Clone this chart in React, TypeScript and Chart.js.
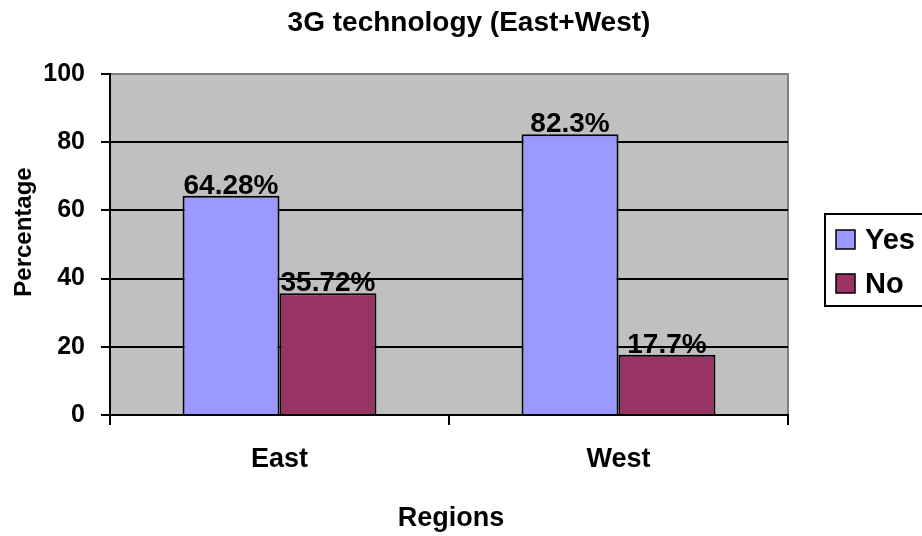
import React, { useEffect, useRef } from "react";
import { Chart, registerables } from "chart.js";

Chart.register(...registerables);

const chartTitle = "3G technology (East+West)";
const xAxisTitle = "Regions";
const yAxisTitle = "Percentage";
const categories = ["East", "West"];
const seriesNames = ["Yes", "No"];
const yesValues = [64.28, 82.3];
const noValues = [35.72, 17.7];
const seriesColors = ["#9999FF", "#993366"];
const yTicks = [0, 20, 40, 60, 80, 100];

const FONT = "'Liberation Sans', Arial, Helvetica, sans-serif";

const decorPlugin = {
  id: "decor",
  beforeDraw(chart: any) {
    const { ctx, chartArea: a } = chart;
    ctx.save();
    ctx.fillStyle = "#C0C0C0";
    ctx.fillRect(a.left, a.top, a.right - a.left, a.bottom - a.top);
    ctx.strokeStyle = "#808080";
    ctx.lineWidth = 2;
    ctx.beginPath();
    ctx.moveTo(a.left, a.top);
    ctx.lineTo(a.right, a.top);
    ctx.lineTo(a.right, a.bottom);
    ctx.stroke();
    ctx.restore();
  },
  afterDatasetsDraw(chart: any) {
    const { ctx } = chart;
    ctx.save();
    ctx.fillStyle = "#000";
    ctx.font = `bold 28px ${FONT}`;
    ctx.textAlign = "center";
    ctx.textBaseline = "alphabetic";
    chart.data.datasets.forEach((ds: any, di: number) => {
      const meta = chart.getDatasetMeta(di);
      meta.data.forEach((bar: any, i: number) => {
        ctx.fillText(`${ds.data[i]}%`, bar.x, bar.y - 2);
      });
    });
    ctx.restore();
  },
  afterDraw(chart: any) {
    const { ctx, chartArea: a } = chart;
    ctx.save();
    ctx.fillStyle = "#000";
    // title
    ctx.font = `bold 28px ${FONT}`;
    ctx.textAlign = "center";
    ctx.textBaseline = "alphabetic";
    ctx.fillText(chartTitle, 469, 31);
    // x axis title
    ctx.font = `bold 27px ${FONT}`;
    ctx.fillText(xAxisTitle, (a.left + a.right) / 2 + 2, 526);
    // y axis title
    ctx.save();
    ctx.translate(31, 232);
    ctx.rotate(-Math.PI / 2);
    ctx.font = `bold 24px ${FONT}`;
    ctx.textAlign = "center";
    ctx.fillText(yAxisTitle, 0, 0);
    ctx.restore();
    // legend
    const lx = 825, ly = 214, lw = 110, lh = 92;
    ctx.fillStyle = "#FFFFFF";
    ctx.fillRect(lx, ly, lw, lh);
    ctx.strokeStyle = "#000";
    ctx.lineWidth = 2;
    ctx.strokeRect(lx, ly, lw, lh);
    ctx.font = `bold 29px ${FONT}`;
    ctx.textAlign = "left";
    chart.data.datasets.forEach((ds: any, di: number) => {
      const sy = 230 + di * 44;
      ctx.fillStyle = ds.backgroundColor;
      ctx.fillRect(836, sy, 19, 19);
      ctx.lineWidth = 1.5;
      ctx.strokeStyle = "#000";
      ctx.strokeRect(836, sy, 19, 19);
      ctx.fillStyle = "#000";
      ctx.fillText(ds.label, 865, sy + 19);
    });
    ctx.restore();
  },
};

export default function App() {
  const ref = useRef<HTMLCanvasElement>(null);
  useEffect(() => {
    document.body.style.margin = "0";
    const chart = new Chart(ref.current as HTMLCanvasElement, {
      type: "bar",
      data: {
        labels: categories,
        datasets: [
          {
            label: seriesNames[0],
            data: yesValues,
            backgroundColor: seriesColors[0],
            borderColor: "#000",
            borderWidth: 2,
            categoryPercentage: 0.572,
            barPercentage: 1,
          },
          {
            label: seriesNames[1],
            data: noValues,
            backgroundColor: seriesColors[1],
            borderColor: "#000",
            borderWidth: 2,
            categoryPercentage: 0.572,
            barPercentage: 1,
          },
        ],
      },
      options: {
        animation: false,
        responsive: true,
        maintainAspectRatio: false,
        layout: { padding: { top: 74, right: 134, left: 0, bottom: 0 } },
        plugins: {
          legend: { display: false },
          title: { display: false },
          tooltip: { enabled: false },
        },
        scales: {
          x: {
            grid: {
              offset: true,
              drawOnChartArea: false,
              drawTicks: true,
              tickLength: 10,
              color: "#000",
              lineWidth: 2,
            },
            border: { display: true, color: "#000", width: 2 },
            ticks: {
              color: "#000",
              font: { family: FONT, size: 27, weight: "bold" },
              padding: 18,
            },
            afterFit(scale: any) {
              scale.height = 121;
            },
          },
          y: {
            min: 0,
            max: 100,
            afterBuildTicks(scale: any) {
              scale.ticks = yTicks.map((v) => ({ value: v }));
            },
            grid: {
              color: (c: any) => (c.tick && c.tick.value === 100 ? "#808080" : "#000"),
              tickColor: "#000",
              lineWidth: 2,
              tickLength: 9,
            },
            border: { display: true, color: "#000", width: 2 },
            ticks: {
              color: "#000",
              font: { family: FONT, size: 25, weight: "bold" },
              padding: 16,
            },
            afterFit(scale: any) {
              scale.width = 110;
            },
          },
        },
      },
      plugins: [decorPlugin],
    });
    return () => chart.destroy();
  }, []);
  return (
    <div style={{ width: 922, height: 536, position: "relative" }}>
      <canvas ref={ref} />
    </div>
  );
}
